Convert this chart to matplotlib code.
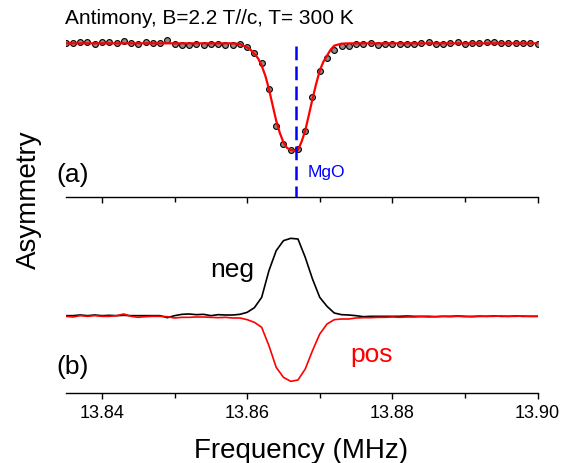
import numpy as np
import matplotlib
matplotlib.use('Agg')
import matplotlib.pyplot as plt

plt.rcParams['font.family'] = ['Liberation Sans', 'DejaVu Sans']

# frequency grid of the measured points (MHz)
freq = np.round(np.arange(13.835, 13.9005, 0.001), 4)

# (a) measured asymmetry (arb. units)
asym_data = [0.00, 0.00, 0.05, 0.03, -0.02, 0.05, 0.03, 0.02, 0.07, 0.01,
             -0.01, 0.03, 0.01, 0.00, 0.10, -0.03, -0.05, -0.04, -0.03, -0.05,
             -0.01, -0.03, -0.04, -0.04, -0.02, -0.12, -0.29, -0.60, -1.37, -2.49,
             -3.02, -3.19, -3.16, -2.64, -1.61, -0.82, -0.44, -0.19, -0.07, -0.09,
             -0.03, -0.01, 0.02, -0.04, -0.02, -0.02, -0.03, -0.01, -0.01, 0.01,
             0.05, -0.03, -0.02, 0.01, 0.04, -0.01, 0.00, 0.01, 0.03, 0.03,
             0.00, 0.00, 0.01, 0.02, 0.02, -0.03]

# (a) fit curve
fit_freq = [13.835, 13.858, 13.859, 13.860, 13.8605, 13.861, 13.8615, 13.862,
            13.8625, 13.863, 13.8635, 13.864, 13.8645, 13.865, 13.8655, 13.866,
            13.8665, 13.867, 13.8675, 13.868, 13.8685, 13.869, 13.8695, 13.870,
            13.8705, 13.871, 13.8715, 13.872, 13.8725, 13.873, 13.874, 13.900]
fit_asym = [0.00, 0.00, -0.02, -0.12, -0.20, -0.32, -0.45, -0.67,
            -0.97, -1.37, -1.85, -2.32, -2.69, -2.97, -3.14, -3.20,
            -3.22, -3.20, -2.95, -2.62, -2.15, -1.67, -1.22, -0.82,
            -0.55, -0.37, -0.19, -0.07, -0.04, -0.01, 0.00, 0.00]

mgo_freq = 13.8667

# (b) difference spectra
neg = [0.00, 0.00, 0.02, 0.00, 0.02, 0.00, 0.01, 0.00, 0.01, 0.00,
       0.00, 0.00, 0.00, 0.00, -0.06, 0.00, 0.04, 0.05, 0.03, 0.04,
       0.00, 0.03, 0.02, 0.02, 0.04, 0.10, 0.24, 0.55, 1.35, 1.95,
       2.25, 2.32, 2.30, 1.75, 1.10, 0.55, 0.28, 0.08, 0.03, 0.02,
       0.00, -0.03, -0.02, -0.02, -0.02, -0.02, -0.02, -0.01, -0.02, -0.02,
       -0.02, -0.03, -0.02, -0.02, -0.01, -0.02, -0.03, -0.02, -0.02, -0.01,
       -0.02, -0.02, -0.01, -0.02, -0.02, -0.02]
pos = [-0.02, -0.04, 0.00, -0.02, 0.00, -0.02, -0.02, 0.00, 0.05, -0.02,
       -0.05, -0.03, -0.02, -0.02, -0.03, -0.07, -0.05, -0.05, -0.04, -0.04,
       -0.05, -0.06, -0.05, -0.07, -0.07, -0.12, -0.20, -0.35, -0.90, -1.55,
       -1.85, -1.97, -1.93, -1.60, -1.05, -0.55, -0.25, -0.12, -0.10, -0.10,
       -0.07, -0.06, -0.06, -0.05, -0.05, -0.04, -0.05, -0.04, -0.04, -0.03,
       -0.04, -0.03, -0.02, -0.03, -0.02, -0.03, -0.02, -0.01, -0.02, -0.02,
       -0.01, -0.02, -0.02, -0.01, -0.02, -0.02]

xticks = [13.84, 13.86, 13.88, 13.90]
xticklabels = ['13.84', '13.86', '13.88', '13.90']

W, H = 572, 464
fig = plt.figure(figsize=(W / 100, H / 100), dpi=100)

def fx(px):
    return px / W

def fy(py):
    return 1 - py / H

ax1 = fig.add_axes([fx(65.7), fy(198.3), fx(537.5) - fx(65.7), fy(35) - fy(198.3)])
ax2 = fig.add_axes([fx(65.7), fy(394), fx(537.5) - fx(65.7), fy(205) - fy(394)])

for ax in (ax1, ax2):
    for s in ('top', 'left', 'right'):
        ax.spines[s].set_visible(False)
    ax.spines['bottom'].set_linewidth(1.0)
    ax.set_xlim(13.835, 13.90)
    ax.set_yticks([])
    ax.set_xticks(xticks)
    ax.set_xticks([13.85, 13.87, 13.89], minor=True)
    ax.tick_params(axis='x', which='major', direction='out', length=4, width=1.0, pad=4,
                   labelsize=13)
    ax.tick_params(axis='x', which='minor', direction='out', length=3.5, width=1.0)
    ax.patch.set_alpha(0)

ax1.set_ylim(-4.62, 0.28)
ax1.tick_params(axis='x', labelbottom=False)
ax1.plot(freq, asym_data, 'o', ms=4.2, mfc='#8c8c8c', mec='black', mew=0.8, zorder=2)
ax1.plot(fit_freq, fit_asym, color='red', lw=1.6, zorder=3)
ax1.plot([mgo_freq, mgo_freq], [-0.08, -4.62], color='blue', lw=1.8, ls='--',
         dashes=(5.5, 2.5), zorder=4)

ax2.set_ylim(-2.32, 3.35)
ax2.set_xticklabels(xticklabels)
ax2.plot(freq, neg, color='black', lw=1.2)
ax2.plot(freq, pos, color='red', lw=1.2)

fig.text(fx(65), fy(18), 'Antimony, B=2.2 T//c, T= 300 K', fontsize=15, va='center', ha='left')
fig.text(fx(56), fy(175), '(a)', fontsize=19, va='center', ha='left')
fig.text(fx(56), fy(367), '(b)', fontsize=19, va='center', ha='left')
fig.text(fx(308), fy(172), 'MgO', fontsize=12.5, color='blue', va='center', ha='left')
fig.text(fx(210), fy(277), 'neg', fontsize=19, color='black', va='baseline', ha='left')
fig.text(fx(350), fy(362), 'pos', fontsize=19, color='red', va='baseline', ha='left')
fig.text(fx(29), fy(200), 'Asymmetry', fontsize=20, rotation=90, va='center', ha='center')
fig.text(fx(301), fy(451), 'Frequency (MHz)', fontsize=20, va='center', ha='center')

fig.savefig('out.png', dpi=100)
